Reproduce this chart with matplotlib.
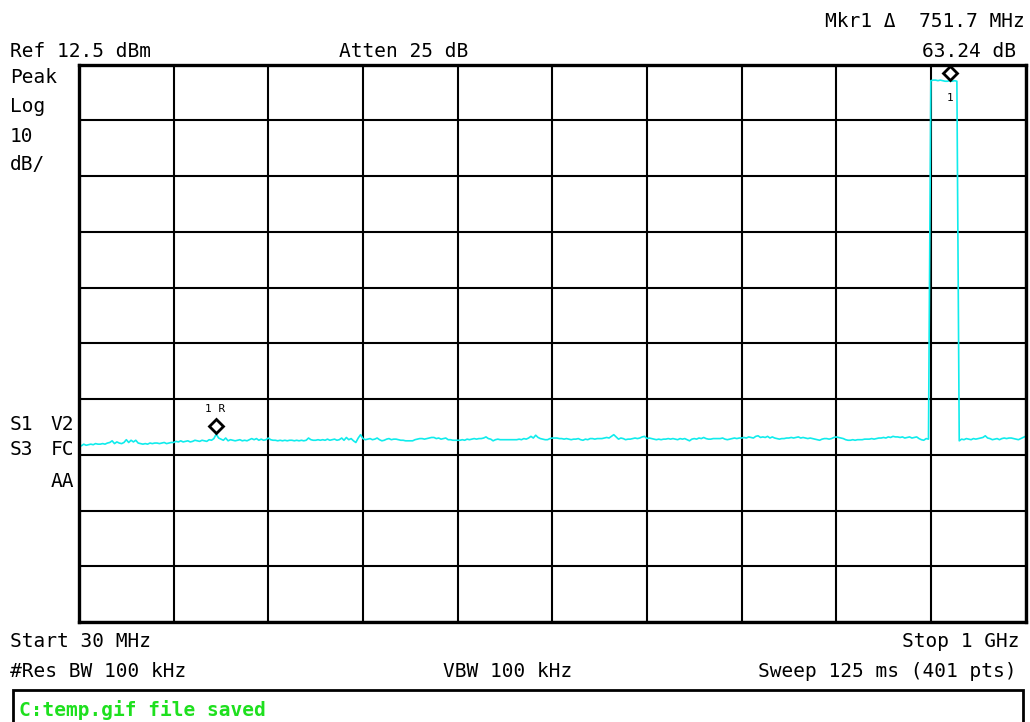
import numpy as np
import matplotlib
matplotlib.use("Agg")
import matplotlib.pyplot as plt
from matplotlib.patches import Rectangle
from matplotlib.transforms import offset_copy

# sweep settings
start_mhz = 30
stop_mhz = 1000
n_pts = 401
ref_dbm = 12.5
db_per_div = 10

# trace in dBm, 401 points
trace = [
    -55.7, -55.9, -55.6, -55.8, -55.7, -55.6, -55.7, -55.5, -55.6, -55.6,
    -55.5, -55.6, -55.4, -55.3, -55.0, -55.5, -55.2, -55.4, -55.5, -55.3,
    -54.8, -55.3, -54.9, -55.2, -54.9, -55.4, -55.5, -55.6, -55.5, -55.6,
    -55.4, -55.5, -55.4, -55.4, -55.5, -55.4, -55.3, -55.5, -55.4, -55.3,
    -55.3, -55.1, -55.2, -55.0, -55.2, -55.1, -55.0, -55.2, -55.1, -54.9,
    -55.0, -55.1, -54.9, -55.0, -55.1, -54.8, -54.9, -54.6, -53.8, -54.5,
    -54.7, -54.9, -54.5, -55.0, -54.8, -54.9, -55.0, -54.9, -54.8, -55.0,
    -54.9, -55.0, -54.8, -54.6, -54.8, -54.6, -54.9, -54.7, -54.9, -54.8,
    -54.5, -54.8, -54.9, -54.9, -55.0, -54.9, -55.0, -54.9, -55.0, -54.9,
    -54.9, -55.0, -54.9, -55.0, -54.9, -55.0, -54.9, -54.5, -54.8, -54.9,
    -54.9, -54.8, -54.9, -54.8, -54.9, -54.7, -54.9, -54.8, -54.7, -54.9,
    -54.8, -54.5, -54.9, -54.4, -54.8, -54.6, -55.0, -55.3, -54.5, -53.9,
    -54.6, -54.8, -54.7, -54.6, -54.8, -54.7, -54.5, -54.8, -55.0, -54.9,
    -54.7, -54.6, -54.8, -54.7, -54.7, -54.8, -54.9, -54.9, -55.0, -55.0,
    -55.0, -55.0, -54.8, -54.7, -54.6, -54.6, -54.7, -54.6, -54.5, -54.4,
    -54.4, -54.6, -54.5, -54.7, -54.6, -54.5, -54.8, -54.8, -54.9, -54.9,
    -54.9, -54.9, -54.8, -54.9, -54.7, -54.8, -54.7, -54.6, -54.7, -54.6,
    -54.6, -54.5, -54.3, -54.6, -54.7, -55.0, -54.8, -54.7, -54.8, -54.8,
    -54.8, -54.8, -54.8, -54.8, -54.8, -54.8, -54.7, -54.8, -54.6, -54.7,
    -54.5, -54.2, -54.5, -54.0, -54.4, -54.6, -54.7, -54.8, -54.8, -54.6,
    -54.5, -54.5, -54.5, -54.6, -54.6, -54.7, -54.6, -54.7, -54.8, -54.7,
    -54.7, -54.6, -54.8, -54.9, -54.7, -54.8, -54.6, -54.6, -54.7, -54.6,
    -54.6, -54.6, -54.5, -54.4, -54.5, -54.2, -53.9, -54.3, -54.7, -54.5,
    -54.6, -54.8, -54.7, -54.7, -54.6, -54.5, -54.6, -54.5, -54.3, -54.2,
    -54.6, -54.5, -54.6, -54.7, -54.8, -54.7, -54.8, -54.7, -54.7, -54.6,
    -54.7, -54.6, -54.7, -54.8, -54.6, -54.7, -54.6, -54.8, -55.0, -54.7,
    -54.6, -54.7, -54.5, -54.6, -54.4, -54.6, -54.7, -54.7, -54.6, -54.6,
    -54.6, -54.6, -54.5, -54.7, -54.8, -54.7, -54.6, -54.5, -54.6, -54.5,
    -54.5, -54.4, -54.5, -54.3, -54.4, -54.5, -54.2, -54.1, -54.4, -54.3,
    -54.4, -54.2, -54.5, -54.3, -54.5, -54.6, -54.7, -54.6, -54.6, -54.5,
    -54.5, -54.4, -54.5, -54.4, -54.3, -54.5, -54.4, -54.5, -54.6, -54.5,
    -54.6, -54.7, -54.8, -54.9, -54.7, -54.6, -54.6, -54.7, -54.6, -54.4,
    -54.3, -54.4, -54.5, -54.6, -54.8, -54.9, -54.9, -54.8, -54.9, -54.8,
    -54.8, -54.8, -54.7, -54.7, -54.7, -54.6, -54.7, -54.6, -54.5, -54.5,
    -54.4, -54.5, -54.3, -54.4, -54.2, -54.3, -54.3, -54.4, -54.3, -54.5,
    -54.4, -54.3, -54.5, -54.4, -54.3, -54.6, -54.8, -54.9, -54.6, -54.7,
    9.6, 9.7, 9.7, 9.6, 9.7, 9.6, 9.5, 9.5, 9.6, 9.5,
    9.6, 9.5, -55.0, -54.7, -54.8, -54.6, -54.7, -54.8, -54.6, -54.7,
    -54.6, -54.5, -54.4, -54.1, -54.5, -54.6, -54.8, -54.7, -54.6, -54.8,
    -54.6, -54.5, -54.6, -54.5, -54.5, -54.6, -54.7, -54.8, -54.6, -54.4,
    -54.2,
]

# markers (trace point index)
mkr_ref_idx = 58
mkr1_idx = 368

freqs = np.linspace(start_mhz, stop_mhz, n_pts)
trace = np.array(trace)

W, H = 1030, 722
fig = plt.figure(figsize=(W / 100, H / 100), dpi=100)
fig.patch.set_facecolor("white")
ax = fig.add_axes([79 / W, 1 - 622 / H, 946.5 / W, 557.5 / H])

ax.set_xlim(start_mhz, stop_mhz)
ax.set_ylim(ref_dbm - 10 * db_per_div, ref_dbm)
ax.set_xticks(np.linspace(start_mhz, stop_mhz, 11))
ax.set_yticks(np.linspace(ref_dbm - 10 * db_per_div, ref_dbm, 11))
ax.tick_params(length=0, labelbottom=False, labelleft=False)
ax.grid(True, color="black", lw=1.5)
ax.set_axisbelow(True)
for sp in ax.spines.values():
    sp.set_linewidth(2.4)
    sp.set_zorder(5)

ax.plot(freqs, trace, color="#10ECEC", lw=1.2, zorder=3)

# diamond markers sit a few pixels above the trace point
up = offset_copy(ax.transData, fig=fig, x=0, y=8, units="dots")
for idx in (mkr_ref_idx, mkr1_idx):
    ax.plot(freqs[idx], trace[idx], marker="D", ms=7.5, mfc="white",
            mec="black", mew=2, transform=up, clip_on=False, zorder=6)

mono = ["DejaVu Sans Mono", "DejaVu Sans"]
ax.annotate("1 R", (freqs[mkr_ref_idx], trace[mkr_ref_idx]),
            xytext=(-1, 22), textcoords="offset pixels", ha="center",
            va="baseline", fontsize=8, family=mono)
ax.annotate("1", (freqs[mkr1_idx], trace[mkr1_idx]),
            xytext=(0, -20), textcoords="offset pixels", ha="center",
            va="baseline", fontsize=8, family=mono)


def txt(x, y, s, ha="left", **kw):
    kw.setdefault("fontsize", 14)
    kw.setdefault("color", "black")
    fig.text(x / W, 1 - y / H, s, ha=ha, va="baseline", family=mono, **kw)


txt(1025, 27, "Mkr1 \u0394  751.7 MHz", ha="right")
txt(1016, 57, "63.24 dB", ha="right")
txt(10, 57, "Ref 12.5 dBm")
txt(339, 57, "Atten 25 dB")

txt(10, 83, "Peak")
txt(10, 112, "Log")
txt(10, 142, "10")
txt(10, 170, "dB/")
txt(10, 430, "S1")
txt(74, 430, "V2", ha="right")
txt(10, 455, "S3")
txt(74, 455, "FC", ha="right")
txt(74, 487, "AA", ha="right")

txt(10, 647, "Start 30 MHz")
txt(1020, 647, "Stop 1 GHz", ha="right")
txt(10, 677, "#Res BW 100 kHz")
txt(443, 677, "VBW 100 kHz")
txt(1016, 677, "Sweep 125 ms (401 pts)", ha="right")

fig.add_artist(Rectangle((13 / W, -0.02), (1023 - 13) / W, 0.02 + 1 - 690 / H,
                         transform=fig.transFigure, fill=False,
                         ec="black", lw=2))
txt(19, 716, "C:temp.gif file saved", color="#1EE01E", fontweight="bold")

fig.savefig("out.png", dpi=100, facecolor="white")
